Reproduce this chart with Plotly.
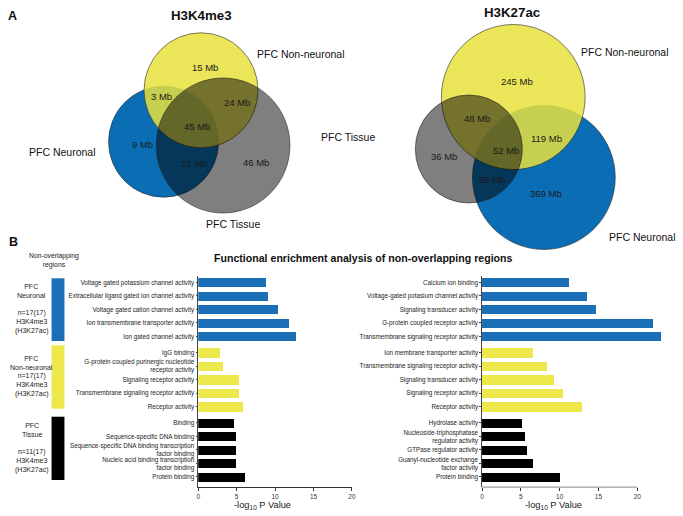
import plotly.graph_objects as go

W, H = 683, 516
FONT = "Arial, Liberation Sans, Helvetica, sans-serif"

# ---------------- data ----------------
groups = ["PFC Neuronal", "PFC Non-neuronal", "PFC Tissue"]
group_colors = ["#1a6fb6", "#ede84c", "#000000"]

left_terms = [
    ["Voltage gated potassium channel activity",
     "Extracellular ligand gated ion channel activity",
     "Voltage gated cation channel activity",
     "Ion transmembrane transporter activity",
     "Ion gated channel activity"],
    ["IgG binding",
     "G-protein coupled purinergic nucleotide<br>receptor activity",
     "Signaling receptor activity",
     "Transmembrane signaling receptor activity",
     "Receptor activity"],
    ["Binding",
     "Sequence-specific DNA binding",
     "Sequence-specific DNA binding transcription<br>factor binding",
     "Nucleic acid binding transcription<br>factor binding",
     "Protein binding"],
]
left_values = [
    [8.9, 9.1, 10.4, 11.8, 12.7],
    [2.8, 3.2, 5.3, 5.4, 5.8],
    [4.7, 4.9, 5.0, 5.0, 6.1],
]

right_terms = [
    ["Calcium ion binding",
     "Voltage-gated potasium channel activity",
     "Signaling transducer activity",
     "G-protein coupled receptor activity",
     "Transmembrane signaling receptor activity"],
    ["Ion membrane transporter activity",
     "Transmembrane signaling receptor activity",
     "Signaling transducer activity",
     "Signaling receptor activity",
     "Receptor activity"],
    ["Hydrolase activity",
     "Nucleoside-triphosphatase<br>regulator activity",
     "GTPase regulator activity",
     "Guanyl-nucleotide exchange<br>factor activity",
     "Protein binding"],
]
right_values = [
    [11.2, 13.5, 14.7, 22.0, 23.0],
    [6.6, 8.4, 9.3, 10.5, 12.9],
    [5.1, 5.5, 5.8, 6.6, 10.0],
]

x_ticks = [0, 5, 10, 15, 20]

group_notes_top = ["PFC<br>Neuronal", "PFC<br>Non-neuronal", "PFC<br>Tissue"]
group_notes_bottom = ["n=17(17)<br>H3K4me3<br>(H3K27ac)",
                      "n=17(17)<br>H3K4me3<br>(H3K27ac)",
                      "n=11(17)<br>H3K4me3<br>(H3K27ac)"]

# Venn region sizes (Mb)
venn_k4_labels = ["15 Mb", "3 Mb", "24 Mb", "45 Mb", "9 Mb", "21 Mb", "46 Mb"]
venn_k27_labels = ["245 Mb", "48 Mb", "119 Mb", "52 Mb", "36 Mb", "55 Mb", "369 Mb"]

# ---------------- layout geometry (pixels) ----------------
def px(x):
    return x / W

def py(y):
    return 1 - y / H

venn_k4_circles = [  # (cx, cy, r, fill)
    (163.0, 141.7, 55.5, "rgb(11,110,181)"),
    (200.8, 90.3, 57.5, "rgba(231,225,61,0.85)"),
    (223.0, 145.5, 67.5, "rgba(0,0,0,0.5)"),
]
venn_k27_circles = [
    (546.7, 177.5, 72.0, "rgb(11,110,181)"),
    (515.8, 97.0, 72.5, "rgba(231,225,61,0.85)"),
    (471.0, 149.0, 54.0, "rgba(0,0,0,0.5)"),
]
venn_k4_label_pos = [(204.3, 67.7), (160.7, 96.7), (236.7, 102.7), (196.7, 126),
                     (141.7, 144.3), (193.3, 163.3), (256.7, 162.3)]
venn_k27_label_pos = [(520, 81), (479, 119), (549, 138.3), (508.3, 150),
                      (446, 156), (494, 180), (549.3, 193.3)]

fig = go.Figure()

# ---------------- bar charts ----------------
GAP = 0.2

def positions(terms):
    pos, txt = [], []
    i = 0
    for g, ts in enumerate(terms):
        for t in ts:
            pos.append(i + GAP * g)
            txt.append(t)
            i += 1
    return pos, txt

for terms, values, xa, ya in [(left_terms, left_values, "x", "y"),
                              (right_terms, right_values, "x2", "y2")]:
    pos, _ = positions(terms)
    k = 0
    for g in range(3):
        n = len(terms[g])
        fig.add_trace(go.Bar(
            x=values[g], y=pos[k:k + n], orientation="h",
            marker=dict(color=group_colors[g], line=dict(width=0)),
            width=0.68, xaxis=xa, yaxis=ya, showlegend=False,
            hoverinfo="x+y"))
        k += n

pos_l, txt_l = positions(left_terms)
pos_r, txt_r = positions(right_terms)
ydom = [1 - 487.1 / H, 1 - 275.7 / H]
yrange = [max(pos_l) + 0.75, -0.5]

yax_common = dict(range=yrange, domain=ydom, showgrid=False, zeroline=False,
                  showline=True, linecolor="#444", linewidth=0.5,
                  ticks="outside", ticklen=2, tickwidth=0.5, tickcolor="#444",
                  tickfont=dict(size=6.3, color="#222", family=FONT))
xax_common = dict(showgrid=False, zeroline=False, tickvals=x_ticks,
                  ticks="outside", ticklen=3, tickwidth=0.6, tickcolor="#333",
                  tickfont=dict(size=6.5, color="#333", family=FONT))

fig.update_layout(
    xaxis=dict(domain=[198 / W, 353 / W], range=[0, 20], anchor="y",
               showline=True, linecolor="#333", linewidth=0.6, **xax_common),
    yaxis=dict(anchor="x", tickvals=pos_l, ticktext=txt_l, **yax_common),
    xaxis2=dict(domain=[484.3 / W, 668.3 / W], range=[0, 23.5], anchor="y2",
                showline=False, **xax_common),
    yaxis2=dict(anchor="x2", tickvals=pos_r, ticktext=txt_r, **yax_common),
)

shapes = []
# right x-axis line only spanning 0-20
shapes.append(dict(type="line", xref="x2", yref="y2 domain", x0=0, x1=20, y0=0, y1=0,
                   line=dict(color="#333", width=0.6)))

# Venn circles
for circles in (venn_k4_circles, venn_k27_circles):
    for cx, cy, r, fill in circles:
        shapes.append(dict(type="circle", xref="paper", yref="paper",
                           x0=px(cx - r), x1=px(cx + r), y0=py(cy + r), y1=py(cy - r),
                           fillcolor=fill, line=dict(color="rgba(40,40,40,0.85)", width=0.7)))

# group colour bars on the left
group_bar_y = [(278.3, 341), (345.3, 408.7), (416.7, 480)]
for (y0, y1), c in zip(group_bar_y, group_colors):
    shapes.append(dict(type="rect", xref="paper", yref="paper",
                       x0=px(50), x1=px(63), y0=py(y1), y1=py(y0),
                       fillcolor=c, line=dict(width=0)))

fig.update_layout(shapes=shapes)

ann = []

def txt(x, y, s, size, xanchor="center", yanchor="middle", color="#111"):
    ann.append(dict(x=px(x), y=py(y), xref="paper", yref="paper", text=s,
                    showarrow=False, xanchor=xanchor, yanchor=yanchor,
                    font=dict(size=size, family=FONT, color=color),
                    align="center"))

# panel letters & titles
txt(11, 15.5, "<b>A</b>", 12.5)
txt(12, 242, "<b>B</b>", 12.5)
txt(201.7, 15, "<b>H3K4me3</b>", 13.3)
txt(515, 12, "<b>H3K27ac</b>", 13.3)

# venn set labels
txt(255, 54, "PFC Non-neuronal", 10.5, xanchor="left")
txt(96.7, 151.7, "PFC Neuronal", 10.5, xanchor="right")
txt(233.3, 224, "PFC Tissue", 10.5)
txt(320, 136.7, "PFC Tissue", 10.5, xanchor="left")
txt(581.7, 52.3, "PFC Non-neuronal", 10.5, xanchor="left")
txt(610, 236.7, "PFC Neuronal", 10.5, xanchor="left")

for labs, poss in ((venn_k4_labels, venn_k4_label_pos), (venn_k27_labels, venn_k27_label_pos)):
    for s, (x, y) in zip(labs, poss):
        txt(x, y, s, 9.5, color="#1a1a1a")

# section B texts
txt(364.3, 258.3, "<b>Functional enrichment analysis of non-overlapping regions</b>", 10.6)
txt(52, 260.5, "Non-overlapping<br>regions", 6.8, color="#222")
note_top_y = [290.5, 362.5, 430]
note_bottom_y = [321.7, 385, 460.5]
for i in range(3):
    txt(30, note_top_y[i], group_notes_top[i], 7, color="#222")
    txt(30, note_bottom_y[i], group_notes_bottom[i], 7, color="#222")

txt(263.3, 505.5, "-log<sub>10</sub> P Value", 9.3, color="#222")
txt(556.7, 505.5, "-log<sub>10</sub> P Value", 9.3, color="#222")

fig.update_layout(
    annotations=ann,
    width=W, height=H,
    margin=dict(l=0, r=0, t=0, b=0),
    paper_bgcolor="white", plot_bgcolor="rgba(0,0,0,0)",
    font=dict(family=FONT),
    bargap=0,
)

fig.write_html("out.html", config={"displayModeBar": False},
               post_script="document.body.style.margin='0px';")
